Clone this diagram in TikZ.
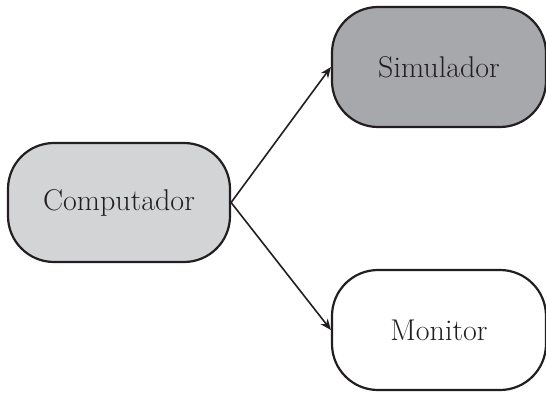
\documentclass[tikz,border=0pt]{standalone}
\usepackage{tikz}
\usetikzlibrary{arrows.meta,positioning}
\definecolor{LightFill}{HTML}{D3D4D6}
\definecolor{DarkFill}{HTML}{A7A8AB}
\definecolor{EdgeInk}{HTML}{231F20}

\begin{document}
\begin{tikzpicture}[x=1pt, y=1pt,
    block/.style={draw=EdgeInk, line width=2.2pt, rounded corners=46pt, minimum width=222pt, minimum height=119pt, font=\fontsize{30}{36}\selectfont, text=EdgeInk},
    arr/.style={-{Stealth[length=11pt, width=9pt]}, draw=EdgeInk, line width=1.6pt}
  ]
    \useasboundingbox (0,0) rectangle (546,392);

    \node[block, fill=LightFill] (comp) at (119, 189.5) {Computador};
    \node[block, fill=DarkFill, minimum width=214pt, minimum height=120pt] (sim) at (439, 325) {Simulador};
    \node[block, fill=white, minimum width=214pt, minimum height=120pt] (mon) at (439, 62) {Monitor};

    \draw[arr] (comp.east) -- (sim.west);
    \draw[arr] (comp.east) -- (mon.west);
  \end{tikzpicture}
\end{document}
